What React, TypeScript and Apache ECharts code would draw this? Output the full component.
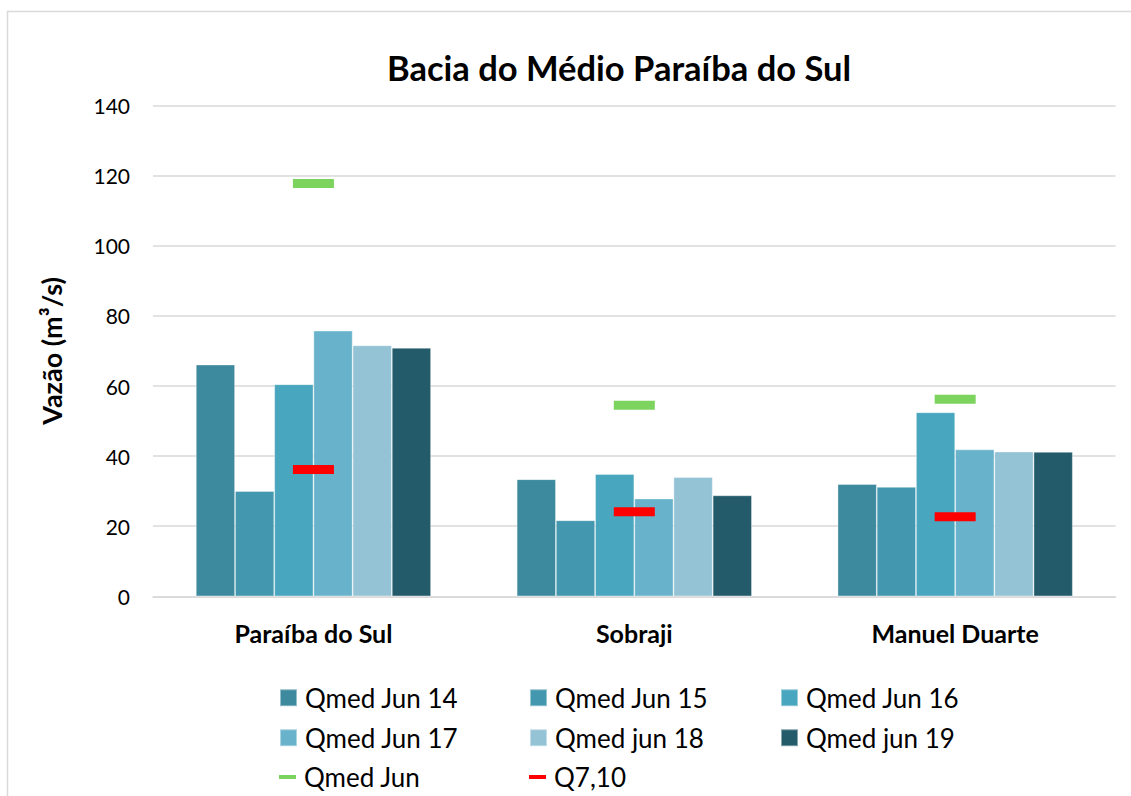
import React, { useEffect, useRef } from "react";
import * as echarts from "echarts";

const categories = ["Paraíba do Sul", "Sobraji", "Manuel Duarte"];
const barNames = ["Qmed Jun 14", "Qmed Jun 15", "Qmed Jun 16", "Qmed Jun 17", "Qmed jun 18", "Qmed jun 19"];
const jun14 = [66.1, 33.4, 32.0];
const jun15 = [30.0, 21.7, 31.2];
const jun16 = [60.5, 34.9, 52.5];
const jun17 = [75.8, 27.9, 41.9];
const jun18 = [71.6, 34.0, 41.3];
const jun19 = [70.9, 28.8, 41.2];
const qmedJun = [117.8, 54.5, 56.2];
const q710 = [36.2, 24.1, 22.7];
const yTicks = [0, 140, 20];

const barColors = ["#3d899e", "#4397ae", "#49a6bf", "#68b3cb", "#93c3d5", "#235b6b"];
const FONT = "Lato, 'Open Sans', sans-serif";

export default function App() {
  const ref = useRef<HTMLDivElement>(null);
  useEffect(() => {
    if (!ref.current) return;
    const chart = echarts.init(ref.current, undefined, { renderer: "svg" });
    const barData = [jun14, jun15, jun16, jun17, jun18, jun19];
    const barSeries = barNames.map((name, i) => ({
      name,
      type: "bar",
      data: barData[i],
      barGap: "0%",
      barCategoryGap: "26.7%",
      itemStyle: { color: barColors[i], borderColor: "rgba(255,255,255,0.45)", borderWidth: 0.8 },
    }));
    const legendCols = [279, 529, 780];
    const legendRows = [682.7, 722.7, 762];
    const legendItems = [
      { name: "Qmed Jun 14", c: 0, r: 0 },
      { name: "Qmed Jun 15", c: 1, r: 0 },
      { name: "Qmed Jun 16", c: 2, r: 0 },
      { name: "Qmed Jun 17", c: 0, r: 1 },
      { name: "Qmed jun 18", c: 1, r: 1 },
      { name: "Qmed jun 19", c: 2, r: 1 },
      { name: "Qmed Jun", c: 0, r: 2, line: true },
      { name: "Q7,10", c: 1, r: 2, line: true },
    ];
    const legends = legendItems.map((it) => ({
      data: [{ name: it.name, icon: "rect" }],
      left: legendCols[it.c],
      top: legendRows[it.r],
      padding: 0,
      itemWidth: 17,
      itemHeight: it.line ? 4 : 17,
      selectedMode: false,
      itemStyle: { opacity: 1 },
      textStyle: { fontFamily: FONT, fontSize: 26, color: "#000", lineHeight: 30, padding: [0, 0, 0, 3] },
    }));
    chart.setOption({
      animation: false,
      backgroundColor: "#fff",
      title: {
        text: "Bacia do Médio Paraíba do Sul",
        left: 382,
        top: 45,
        textStyle: { fontFamily: FONT, fontSize: 34.5, fontWeight: "bold", color: "#000" },
      },
      graphic: [
        {
          type: "rect",
          shape: { x: 7.5, y: 11.5, width: 1300, height: 1000 },
          style: { fill: "none", stroke: "#d9d9d9", lineWidth: 1.5 },
          silent: true,
        },
      ],
      legend: legends,
      grid: { left: 153, right: 15.4, top: 105.6, bottom: 199.7, containLabel: false },
      xAxis: {
        type: "category",
        data: categories,
        axisLine: { show: true, lineStyle: { color: "#d9d9d9", width: 1.5 } },
        axisTick: { show: false },
        axisLabel: { fontFamily: FONT, fontSize: 25, fontWeight: "bold", color: "#000", margin: 22, lineHeight: 30 },
      },
      yAxis: {
        type: "value",
        min: yTicks[0],
        max: yTicks[1],
        interval: yTicks[2],
        name: "Vazão (m³/s)",
        nameLocation: "middle",
        nameGap: 88,
        nameTextStyle: { fontFamily: FONT, fontSize: 27, fontWeight: "bold", color: "#000" },
        axisLine: { show: false },
        axisTick: { show: false },
        axisLabel: { fontFamily: FONT, fontSize: 21, color: "#000", margin: 23 },
        splitLine: { lineStyle: { color: "#d9d9d9", width: 1.5 } },
      },
      series: [
        ...barSeries,
        {
          name: "Qmed Jun",
          type: "scatter",
          data: qmedJun,
          symbol: "rect",
          symbolSize: [41, 9],
          itemStyle: { color: "#7cd35e", opacity: 1 },
          z: 5,
        },
        {
          name: "Q7,10",
          type: "scatter",
          data: q710,
          symbol: "rect",
          symbolSize: [41, 9],
          itemStyle: { color: "#ff0000", opacity: 1 },
          z: 5,
        },
      ],
    });
    return () => chart.dispose();
  }, []);
  return (
    <div
      ref={ref}
      style={{ position: "fixed", left: 0, top: 0, width: 1131, height: 796 }}
    />
  );
}
